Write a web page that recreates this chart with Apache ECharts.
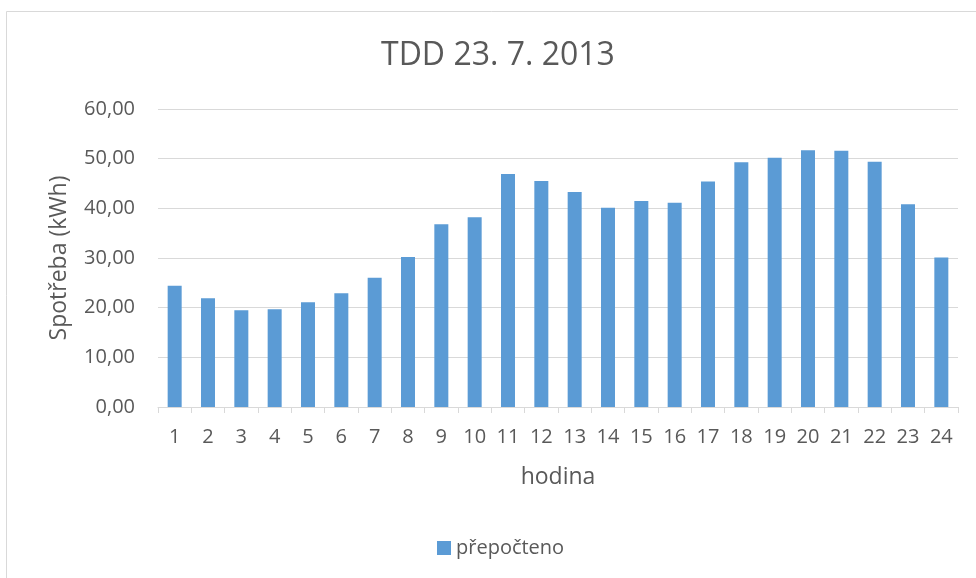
<!DOCTYPE html>
<html>
<head>
<meta charset="utf-8">
<script src="https://cdn.jsdelivr.net/npm/echarts@6/dist/echarts.min.js"></script>
<style>html,body{margin:0;padding:0;background:#fff;}#c{width:976px;height:578px;}</style>
</head>
<body>
<div id="c"></div>
<script>
const categories = ['1','2','3','4','5','6','7','8','9','10','11','12','13','14','15','16','17','18','19','20','21','22','23','24'];
const values = [24.4, 21.9, 19.5, 19.7, 21.1, 22.9, 26.0, 30.2, 36.8, 38.2, 46.9, 45.5, 43.3, 40.1, 41.5, 41.1, 45.4, 49.3, 50.2, 51.7, 51.6, 49.4, 40.8, 30.1];
const seriesName = 'přepočteno';
const titleText = 'TDD 23. 7. 2013';
const yName = 'Spotřeba (kWh)';
const xName = 'hodina';

const font = '"Open Sans", sans-serif';
const chart = echarts.init(document.getElementById('c'));
chart.setOption({
  animation: false,
  backgroundColor: '#fff',
  textStyle: { fontFamily: font },
  graphic: [{
    type: 'rect', left: 4, top: 9, shape: { width: 990, height: 600 },
    style: { fill: 'none', stroke: '#d9d9d9', lineWidth: 1 }, silent: true
  }],
  title: {
    text: titleText, left: 376, top: 35,
    textStyle: { fontFamily: font, fontSize: 32, fontWeight: 'normal', color: '#595959' }
  },
  legend: {
    data: [seriesName], bottom: 15, left: 432, icon: 'rect',
    itemWidth: 14, itemHeight: 14, itemGap: 5,
    textStyle: { fontFamily: font, fontSize: 20, color: '#595959' }
  },
  grid: { left: 158, right: 18, top: 109, bottom: 171, containLabel: false },
  xAxis: {
    type: 'category', data: categories,
    name: xName, nameLocation: 'middle', nameGap: 59,
    nameTextStyle: { fontFamily: font, fontSize: 23, color: '#595959' },
    axisLine: { lineStyle: { color: '#d9d9d9' } },
    axisTick: { show: true, length: 6, lineStyle: { color: '#d9d9d9' } },
    axisLabel: { fontFamily: font, fontSize: 20, color: '#595959', margin: 20 }
  },
  yAxis: {
    type: 'value', min: 0, max: 60, interval: 10,
    name: yName, nameLocation: 'middle', nameGap: 87, nameRotate: 90,
    nameTextStyle: { fontFamily: font, fontSize: 23, color: '#595959' },
    axisLine: { show: false }, axisTick: { show: false },
    axisLabel: { fontFamily: font, fontSize: 20, color: '#595959', margin: 23,
      formatter: v => v.toFixed(2).replace('.', ',') },
    splitLine: { lineStyle: { color: '#d9d9d9', width: 1 } }
  },
  series: [{
    name: seriesName, type: 'bar', data: values, barWidth: 14,
    itemStyle: { color: '#5b9bd5' }
  }]
});
</script>
</body>
</html>
